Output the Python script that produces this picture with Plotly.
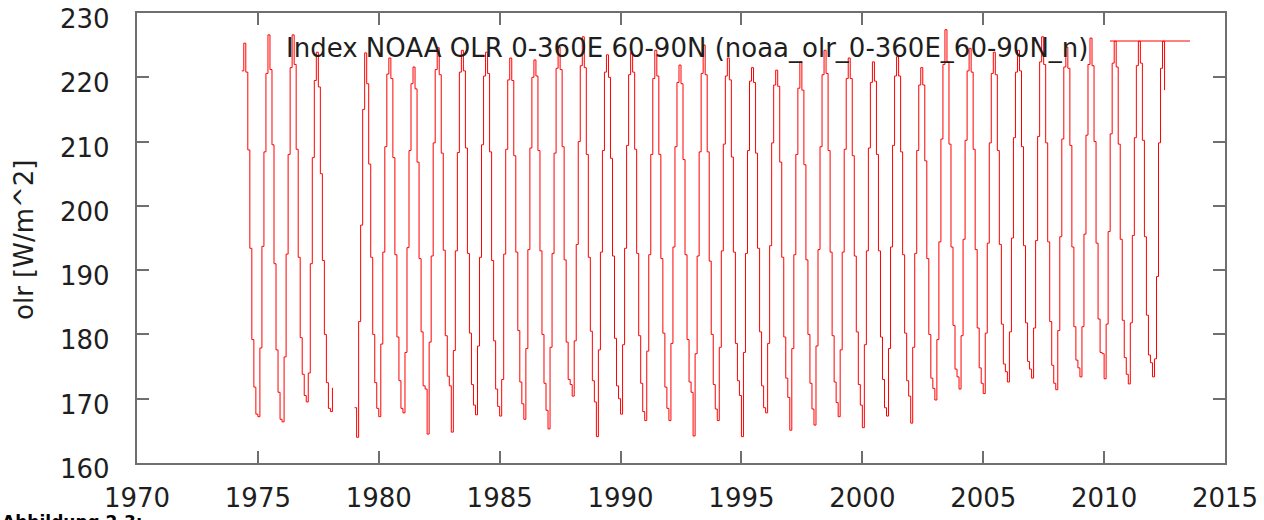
import numpy as np
import plotly.graph_objects as go

# Monthly OLR values [W/m^2], Jan..Dec unless noted
start_1974_month = 5  # series begins May 1974
y1974 = [221.0, 225.3, 220.8, 208.7, 193.4, 179.2, 171.8, 167.6]
y1975 = [167.2, 177.9, 193.7, 208.4, 220.6, 226.6, 221.2, 209.5, 191.0, 177.6, 171.0, 166.8]
y1976 = [166.4, 176.5, 192.5, 208.0, 221.5, 226.6, 222.0, 208.8, 192.0, 179.5, 173.8, 170.5]
y1977 = [169.5, 174.0, 191.0, 207.5, 219.5, 223.9, 218.5, 205.0, 191.5, 180.0, 172.5, 168.5]
y1978 = [168.0, 171.7]  # Jan-Feb, then missing until Dec 1978
y1979 = [168.6, 164.0, 182.0, 197.0, 215.0, 223.8, 219.0, 206.5, 192.0, 180.0, 172.5, 168.5]
y1980 = [167.2, 178.5, 192.8, 209.2, 220.5, 223.0, 219.8, 207.5, 192.4, 179.6, 172.8, 168.5]
y1981 = [167.8, 177.2, 193.5, 208.6, 219.0, 221.6, 218.2, 206.8, 191.8, 180.4, 172.0, 171.5]
y1982 = [164.5, 178.8, 192.2, 209.8, 221.2, 224.6, 220.4, 208.2, 193.1, 179.8, 173.5, 172.0]
y1983 = [164.8, 177.5, 193.0, 208.3, 220.8, 224.2, 221.0, 209.0, 192.6, 180.2, 172.2, 169.0]
y1984 = [167.5, 178.2, 192.0, 209.5, 220.2, 223.9, 220.6, 208.4, 191.5, 179.0, 171.5, 168.8]
y1985 = [167.3, 173.0, 192.5, 208.8, 219.6, 223.0, 219.5, 207.8, 192.8, 180.6, 172.6, 169.2]
y1986 = [166.8, 177.8, 193.2, 209.0, 220.0, 222.7, 220.2, 208.6, 193.0, 180.0, 172.4, 168.2]
y1987 = [165.3, 178.0, 192.6, 208.2, 221.4, 224.7, 221.2, 209.2, 191.6, 178.8, 173.0, 172.2]
y1988 = [170.4, 179.0, 194.0, 210.0, 221.8, 226.3, 221.5, 208.0, 192.0, 180.5, 172.8, 169.5]
y1989 = [164.1, 177.6, 192.8, 208.6, 220.8, 223.5, 220.0, 207.4, 192.2, 179.4, 172.0, 170.0]
y1990 = [167.6, 178.4, 193.4, 209.4, 220.4, 223.9, 220.8, 208.8, 192.6, 179.8, 172.4, 168.0]
y1991 = [166.6, 177.4, 192.4, 208.0, 219.8, 224.2, 220.2, 208.0, 191.8, 180.2, 171.8, 168.5]
y1992 = [166.6, 178.6, 193.6, 209.2, 219.2, 221.9, 219.0, 207.2, 192.4, 179.2, 172.6, 171.0]
y1993 = [164.2, 177.0, 192.2, 208.4, 220.6, 225.0, 220.4, 208.4, 191.4, 180.0, 172.2, 168.4]
y1994 = [166.6, 178.0, 193.0, 209.6, 220.2, 223.0, 219.6, 207.6, 192.8, 178.6, 172.8, 170.5]
y1995 = [164.1, 177.2, 192.6, 208.6, 219.4, 221.5, 219.2, 208.2, 193.4, 180.4, 172.0, 168.6]
y1996 = [167.8, 178.6, 193.8, 209.8, 218.8, 221.1, 218.6, 206.8, 192.0, 179.6, 173.2, 170.2]
y1997 = [165.1, 177.8, 192.4, 208.0, 218.3, 222.4, 218.0, 206.4, 191.6, 180.0, 172.4, 168.4]
y1998 = [165.9, 178.2, 193.2, 209.2, 220.4, 224.2, 220.6, 208.6, 192.8, 179.8, 172.6, 169.4]
y1999 = [167.2, 177.6, 192.8, 208.8, 219.8, 223.0, 219.8, 207.8, 192.2, 180.4, 172.2, 169.0]
y2000 = [165.5, 178.4, 193.0, 209.0, 219.2, 222.4, 219.4, 208.0, 193.0, 179.6, 173.0, 168.6]
y2001 = [167.3, 177.8, 193.6, 209.4, 220.2, 223.2, 220.2, 208.4, 192.4, 180.2, 172.8, 170.4]
y2002 = [166.2, 178.0, 192.6, 208.6, 218.8, 221.5, 218.8, 207.0, 191.8, 180.0, 173.2, 171.6]
y2003 = [169.8, 179.2, 194.4, 210.4, 222.0, 227.4, 222.4, 209.6, 193.6, 181.4, 174.6, 173.4]
y2004 = [171.5, 179.8, 194.8, 210.2, 221.0, 224.5, 220.8, 208.8, 193.2, 181.0, 174.8, 172.4]
y2005 = [170.8, 180.2, 194.2, 209.8, 220.6, 223.9, 220.4, 208.6, 194.0, 181.6, 175.4, 174.2]
y2006 = [172.6, 180.4, 195.0, 210.6, 220.8, 224.2, 221.0, 209.2, 193.8, 181.8, 175.8, 174.6]
y2007 = [173.2, 181.0, 194.6, 210.8, 222.4, 226.3, 222.0, 209.8, 194.4, 182.0, 175.2, 172.4]
y2008 = [171.4, 180.6, 195.2, 210.4, 221.6, 224.7, 221.4, 209.4, 193.6, 181.2, 176.0, 174.8]
y2009 = [173.4, 181.2, 195.6, 211.0, 222.0, 226.1, 221.8, 210.0, 194.2, 182.4, 177.2, 177.0]
y2010 = [173.1, 181.6, 196.0, 211.2, 222.2, 225.6, 221.6, 209.6, 194.8, 182.2, 176.4, 173.8]
y2011 = [172.3, 181.8, 195.4, 210.6, 221.8, 225.6, 222.2, 210.2, 195.2, 183.0, 176.8, 175.6]
y2012 = [173.4, 176.2, 189.0, 209.8, 221.4, 225.6, 218.0]  # Jan-Jul

x_ticks = [1970, 1975, 1980, 1985, 1990, 1995, 2000, 2005, 2010, 2015]
y_ticks = [160, 170, 180, 190, 200, 210, 220, 230]
legend_text = "Index NOAA OLR 0-360E 60-90N (noaa_olr_0-360E_60-90N_n)"

# Assemble the monthly series with decimal-year time axis
segments = [(1974, start_1974_month, y1974), (1975, 1, y1975), (1976, 1, y1976),
            (1977, 1, y1977), (1978, 1, y1978), None,
            (1979, 1, y1979), (1980, 1, y1980), (1981, 1, y1981), (1982, 1, y1982),
            (1983, 1, y1983), (1984, 1, y1984), (1985, 1, y1985), (1986, 1, y1986),
            (1987, 1, y1987), (1988, 1, y1988), (1989, 1, y1989), (1990, 1, y1990),
            (1991, 1, y1991), (1992, 1, y1992), (1993, 1, y1993), (1994, 1, y1994),
            (1995, 1, y1995), (1996, 1, y1996), (1997, 1, y1997), (1998, 1, y1998),
            (1999, 1, y1999), (2000, 1, y2000), (2001, 1, y2001), (2002, 1, y2002),
            (2003, 1, y2003), (2004, 1, y2004), (2005, 1, y2005), (2006, 1, y2006),
            (2007, 1, y2007), (2008, 1, y2008), (2009, 1, y2009), (2010, 1, y2010),
            (2011, 1, y2011), (2012, 1, y2012)]
xs, ys = [], []
for seg in segments:
    if seg is None:
        xs.append(None); ys.append(None)
        continue
    yr, m0, vals = seg
    for i, v in enumerate(vals):
        xs.append(yr + (m0 - 1 + i) / 12.0)
        ys.append(v)

FONT = "DejaVu Sans"
AX = "#6f6f6f"
TXT = "#1e1e1e"
L, R, T, B = 137, 39, 13, 57
W, H = 1264, 520
pw, ph = W - L - R, H - T - B

fig = go.Figure()
fig.add_trace(go.Scatter(x=xs, y=ys, mode="lines", line=dict(color="#ff0000", width=1, shape="hv"),
                         connectgaps=False, showlegend=False, hoverinfo="skip"))

axis_common = dict(showgrid=False, zeroline=False, showline=True, linecolor=AX, linewidth=2,
                   mirror="ticks", ticks="inside", ticklen=12, tickwidth=1.5, tickcolor=AX,
                   automargin=False, tickfont=dict(family=FONT, size=26, color=TXT))
fig.update_xaxes(range=[1970, 2015], tickvals=x_ticks, ticktext=[str(t) for t in x_ticks],
                 ticklabelstandoff=11, **axis_common)
# y tick labels drawn as annotations on the y scale (reference labels sit slightly below ticks)
fig.update_yaxes(range=[160, 230], tickvals=y_ticks, showticklabels=False, **axis_common)
for t in y_ticks:
    fig.add_annotation(text=str(t), xref="paper", yref="y", x=-0.023, y=t, yshift=-6,
                       xanchor="right", yanchor="middle", showarrow=False,
                       font=dict(family=FONT, size=26, color=TXT))

def px(xp):
    return (xp - L) / pw

def py(yp):
    return (H - B - yp) / ph

fig.add_annotation(text=legend_text, xref="paper", yref="paper", x=px(1090), y=py(48),
                   xanchor="right", yanchor="middle", showarrow=False,
                   font=dict(family=FONT, size=26, color=TXT))
fig.add_shape(type="line", xref="paper", yref="paper", x0=px(1110), x1=px(1190),
              y0=py(41), y1=py(41), line=dict(color="#ff0000", width=1))
fig.add_annotation(text="olr [W/m^2]", xref="paper", yref="paper", x=px(24), y=py(240),
                   xanchor="center", yanchor="middle", textangle=-90, showarrow=False,
                   font=dict(family=FONT, size=26, color=TXT))
fig.add_annotation(text="<b>Abbildung 2.3:</b>", xref="paper", yref="paper", x=px(0), y=py(510),
                   xanchor="left", yanchor="top", showarrow=False,
                   font=dict(family=FONT, size=17, color="#000000"))

fig.update_layout(width=W, height=H, margin=dict(l=L, r=R, t=T, b=B),
                  paper_bgcolor="white", plot_bgcolor="white")
fig.write_html("out.html")
